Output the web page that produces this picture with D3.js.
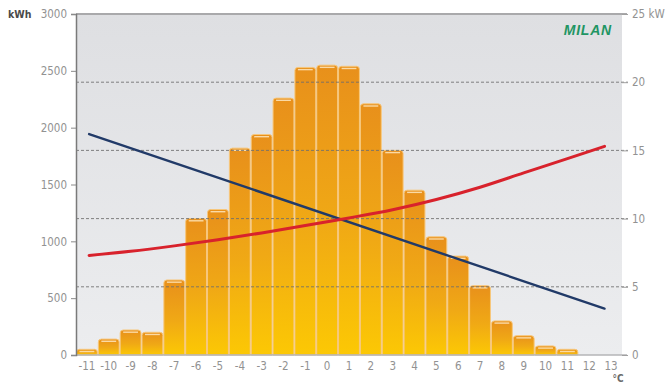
<!DOCTYPE html>
<html>
<head>
<meta charset="utf-8">
<script src="https://cdn.jsdelivr.net/npm/d3@7"></script>
<style>
  html, body { margin: 0; padding: 0; background: #ffffff; }
  svg { display: block; }
  text { font-family: "DejaVu Sans Condensed", "Liberation Sans Narrow", "DejaVu Sans", sans-serif; }
</style>
</head>
<body>
<svg id="chart" width="665" height="384"></svg>
<script>
// Outdoor temperature classes (°C) shown on the x axis
const temperatures = [-11, -10, -9, -8, -7, -6, -5, -4, -3, -2, -1, 0, 1, 2, 3, 4, 5, 6, 7, 8, 9, 10, 11, 12, 13];

// Heating energy demand per temperature class (kWh), classes -11 … 11
const energyKWh = [50, 140, 220, 200, 660, 1200, 1280, 1820, 1940, 2260, 2530, 2550, 2540, 2210, 1800, 1450, 1040, 870, 610, 300, 170, 80, 50];

// Building heat load (kW), a straight line over the temperature range
const loadTemps = [-10.9, 12.7];
const loadKW = [16.2, 3.4];

// Heat pump output capacity (kW)
const outputTemps = [-10.9, -9, -7, -5, -3, -1, 1, 3, 5, 7, 9, 11, 12.7];
const outputKW = [7.3, 7.6, 8.0, 8.45, 8.95, 9.5, 10.05, 10.65, 11.4, 12.3, 13.35, 14.4, 15.3];

// Axis ticks
const leftTicks = [0, 500, 1000, 1500, 2000, 2500, 3000];
const rightTicks = [0, 5, 10, 15, 20, 25];
const gridKW = [5, 10, 15, 20];

const cityName = "MILAN";

const svg = d3.select("#chart");
const plotLeft = 76, plotRight = 622, plotTop = 14, plotBottom = 355;

const x = d3.scaleBand().domain(temperatures).range([plotLeft, plotRight]).paddingInner(0).paddingOuter(0);
const bw = x.bandwidth();
const xt = d3.scaleLinear()
  .domain([temperatures[0], temperatures[temperatures.length - 1]])
  .range([x(temperatures[0]) + bw / 2, x(temperatures[temperatures.length - 1]) + bw / 2]);
const yE = d3.scaleLinear().domain([0, 3000]).range([plotBottom, plotTop]);
const yP = d3.scaleLinear().domain([0, 25]).range([plotBottom, plotTop]);

const defs = svg.append("defs");
const panelGrad = defs.append("linearGradient").attr("id", "panelGrad")
  .attr("x1", 0).attr("y1", 0).attr("x2", 0).attr("y2", 1);
panelGrad.append("stop").attr("offset", "0%").attr("stop-color", "#dedfe2");
panelGrad.append("stop").attr("offset", "100%").attr("stop-color", "#ecedef");

const barGrad = defs.append("linearGradient").attr("id", "barGrad")
  .attr("x1", 0).attr("y1", 0).attr("x2", 0).attr("y2", 1);
barGrad.append("stop").attr("offset", "0%").attr("stop-color", "#e8901b");
barGrad.append("stop").attr("offset", "55%").attr("stop-color", "#f0a915");
barGrad.append("stop").attr("offset", "100%").attr("stop-color", "#fcc804");

// Plot panel
svg.append("rect")
  .attr("x", plotLeft).attr("y", plotTop)
  .attr("width", plotRight - plotLeft).attr("height", plotBottom - plotTop)
  .attr("fill", "url(#panelGrad)");

// Bars with rounded top corners
const barData = energyKWh.map((v, i) => ({ t: temperatures[i], v }));
function barPath(d) {
  const x0 = x(d.t) + 0.5, x1 = x(d.t) + bw - 0.5;
  const y0 = yE(d.v), y1 = yE(0);
  const r = Math.min(3, (y1 - y0) / 2);
  return `M${x0},${y1} L${x0},${y0 + r} Q${x0},${y0} ${x0 + r},${y0} L${x1 - r},${y0} Q${x1},${y0} ${x1},${y0 + r} L${x1},${y1} Z`;
}
const bars = svg.append("g");
bars.selectAll("path.bar").data(barData).join("path")
  .attr("class", "bar")
  .attr("d", barPath)
  .attr("fill", "url(#barGrad)")
  .attr("stroke", "#f7c77c")
  .attr("stroke-width", 1);
bars.selectAll("line.cap").data(barData).join("line")
  .attr("class", "cap")
  .attr("x1", d => x(d.t) + 3.5).attr("x2", d => x(d.t) + bw - 3.5)
  .attr("y1", d => yE(d.v) + 2.2).attr("y2", d => yE(d.v) + 2.2)
  .attr("stroke", "#fde2b4").attr("stroke-width", 1.4).attr("opacity", 0.9);

// Dashed grid lines at right-axis values
svg.append("g").selectAll("line").data(gridKW).join("line")
  .attr("x1", plotLeft).attr("x2", plotRight + 6)
  .attr("y1", d => yP(d)).attr("y2", d => yP(d))
  .attr("stroke", "#6f6f6f").attr("stroke-width", 1)
  .attr("stroke-dasharray", "3,2").attr("opacity", 0.85);

// Top border and base line
svg.append("line").attr("x1", plotLeft).attr("x2", plotRight + 5).attr("y1", plotTop).attr("y2", plotTop)
  .attr("stroke", "#a9a9ab").attr("stroke-width", 2);
svg.append("line").attr("x1", plotLeft).attr("x2", plotRight + 5).attr("y1", plotBottom).attr("y2", plotBottom)
  .attr("stroke", "#b5b5b7").attr("stroke-width", 1.5);

// Left axis
const leftAxis = d3.axisLeft(yE).tickValues(leftTicks).tickSize(5).tickPadding(4).tickFormat(d3.format("d"));
const gL = svg.append("g").attr("transform", `translate(${plotLeft},0)`).call(leftAxis);
gL.select(".domain").attr("stroke", "#7a7a7a").attr("stroke-width", 1.5);
gL.selectAll(".tick line").attr("stroke", "#8a8a8a");
gL.selectAll(".tick text").attr("fill", "#929292").style("font-size", "11.5px");

// Right axis
const rightAxis = d3.axisRight(yP).tickValues(rightTicks).tickSize(6).tickPadding(4).tickFormat(d => d === 25 ? "25  kW" : d);
const gR = svg.append("g").attr("transform", `translate(${plotRight},0)`).call(rightAxis);
gR.select(".domain").remove();
gR.selectAll(".tick line").attr("stroke", "#a0a0a0");
gR.selectAll(".tick text").attr("fill", "#929292").style("font-size", "11.5px");

// Bottom axis labels
const bottomAxis = d3.axisBottom(x).tickSize(0).tickPadding(7);
const gB = svg.append("g").attr("transform", `translate(0,${plotBottom})`).call(bottomAxis);
gB.select(".domain").remove();
gB.selectAll(".tick text").attr("fill", "#929292").style("font-size", "11.5px");

// Unit labels
svg.append("text").attr("x", 8).attr("y", 18).text("kWh")
  .attr("fill", "#4a4a4a").style("font-size", "10.5px").style("font-weight", "bold");
svg.append("text").attr("x", xt(13) + 7).attr("y", 382).attr("text-anchor", "middle").text("°C")
  .attr("fill", "#6a6a6a").style("font-size", "10px").style("font-weight", "bold");

// Heat load line
const lineLoad = d3.line().x((d, i) => xt(loadTemps[i])).y(d => yP(d));
svg.append("path").datum(loadKW).attr("d", lineLoad)
  .attr("fill", "none").attr("stroke", "#213a68").attr("stroke-width", 2.4).attr("stroke-linecap", "round");

// Heat pump output curve
const lineOut = d3.line().x((d, i) => xt(outputTemps[i])).y(d => yP(d)).curve(d3.curveMonotoneX);
svg.append("path").datum(outputKW).attr("d", lineOut)
  .attr("fill", "none").attr("stroke", "#d8222c").attr("stroke-width", 3).attr("stroke-linecap", "round");

// City name
svg.append("text").attr("x", 612).attr("y", 35).attr("text-anchor", "end").text(cityName)
  .attr("fill", "#1f9563")
  .style("font-family", "'Liberation Sans', Arial, sans-serif")
  .style("font-size", "14px").style("font-weight", "bold").style("font-style", "italic")
  .style("letter-spacing", "0.8px");
</script>
</body>
</html>
